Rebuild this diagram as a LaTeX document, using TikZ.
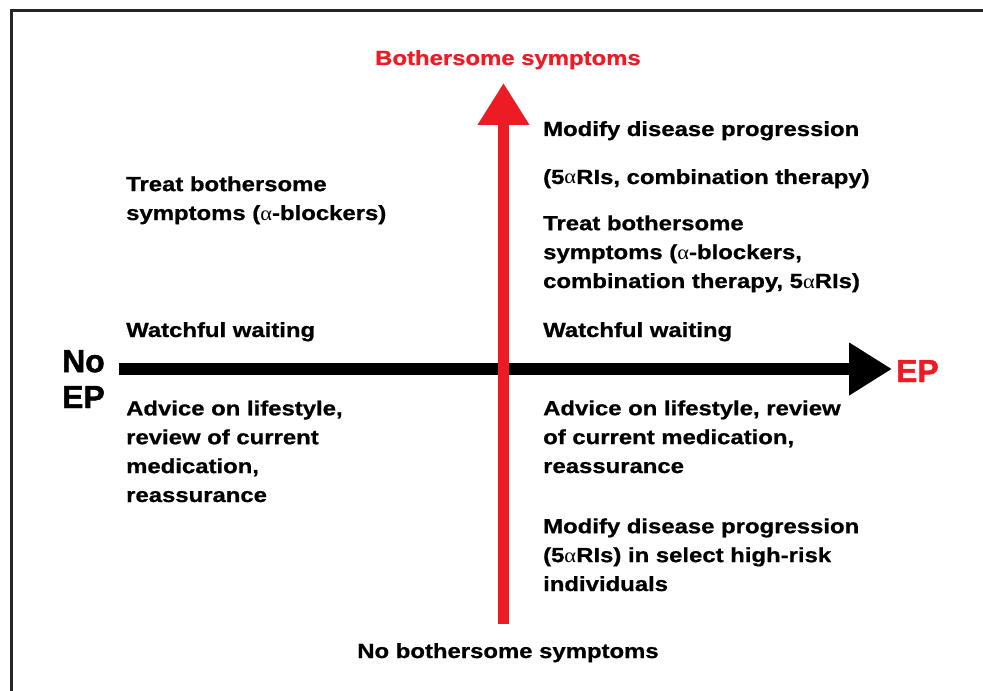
\documentclass[tikz,border=0pt]{standalone}
\usepackage{fontspec}
\setmainfont{Liberation Sans}[FakeStretch=1.17, BoldFeatures={FakeBold=0.8}]
\newfontfamily\bigf{Liberation Sans}[BoldFeatures={FakeBold=1.5}]
\newfontfamily\grk{Liberation Serif}[FakeStretch=1.1]
\usetikzlibrary{arrows.meta}
\definecolor{axred}{HTML}{ED1C24}
\newcommand{\alp}{{\grk\mdseries α}}
\tikzset{
  lbl/.style={anchor=base west, inner sep=0pt, align=left, font=\fontsize{20.5}{29}\selectfont\bfseries},
  ttl/.style={anchor=base, inner sep=0pt, font=\fontsize{20.5}{29}\selectfont\bfseries},
  big/.style={inner sep=0pt, font=\bigf\fontsize{32}{36}\selectfont\bfseries},
}
\begin{document}
\begin{tikzpicture}[x=1bp,y=-1bp]
\useasboundingbox (0,0) rectangle (983,691);
% frame
\draw[line width=3bp, color=black!85] (11.5,691) -- (11.5,10.5) -- (983,10.5);
% axes
\coordinate (hs) at (119,369);
\coordinate (he) at (892,369);
\coordinate (vs) at (503.5,624);
\coordinate (ve) at (503.5,83);
\draw[line width=12bp, -{Triangle[length=43bp,width=50bp]}] (hs) -- (he);
\draw[line width=11bp, axred, -{Triangle[length=42bp,width=49bp]}] (vs) -- (ve);
% axis labels
\node[ttl, text=axred] (top) at (508,65) {Bothersome symptoms};
\node[ttl] (bot) at (508,658) {No bothersome symptoms};
\node[big, anchor=base west, align=left] (noep) at (62,408) {No\\EP};
\node[big, anchor=base west, text=axred] (ep) at (896,382) {EP};
% left column (node base = baseline of last line)
\node[lbl] (l1) at (126,220) {Treat bothersome\\symptoms (\alp-blockers)};
\node[lbl] (l2) at (126,337) {Watchful waiting};
\node[lbl] (l3) at (126,502) {Advice on lifestyle,\\review of current\\medication,\\reassurance};
% right column
\node[lbl] (r1) at (543,136) {Modify disease progression};
\node[lbl] (r2) at (543,184) {(5\alp RIs, combination therapy)};
\node[lbl] (r3) at (543,288) {Treat bothersome\\symptoms (\alp-blockers,\\combination therapy, 5\alp RIs)};
\node[lbl] (r4) at (543,337) {Watchful waiting};
\node[lbl] (r5) at (543,473) {Advice on lifestyle, review\\of current medication,\\reassurance};
\node[lbl] (r6) at (543,591) {Modify disease progression\\(5\alp RIs) in select high-risk\\individuals};
\end{tikzpicture}
\end{document}
